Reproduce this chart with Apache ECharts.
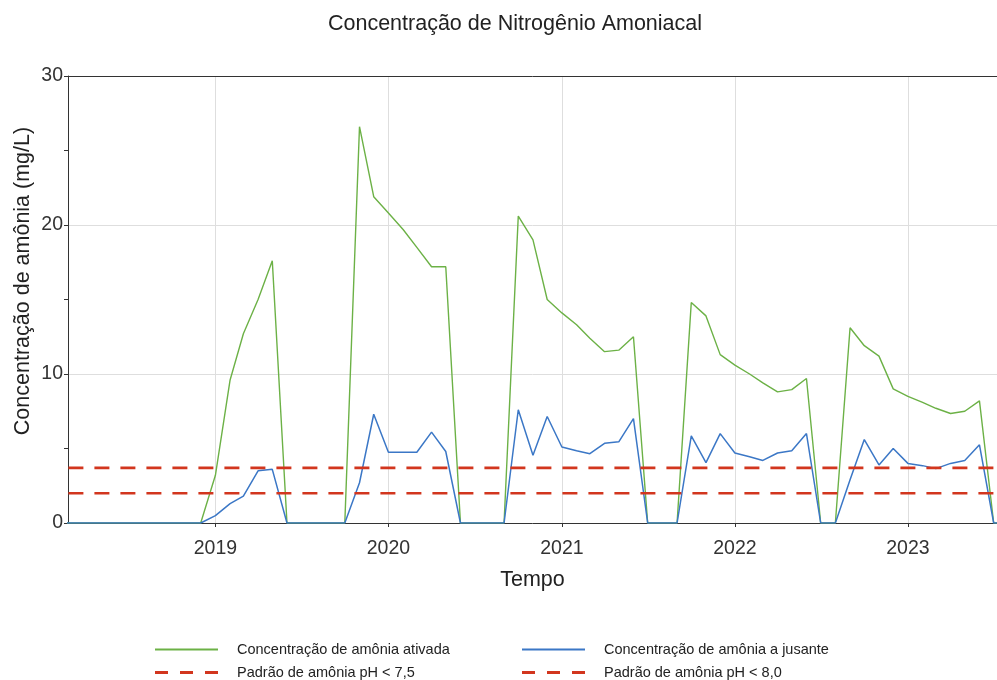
<!DOCTYPE html>
<html>
<head>
<meta charset="utf-8">
<script src="https://cdn.jsdelivr.net/npm/echarts@6/dist/echarts.min.js"></script>
<style>
  html, body { margin: 0; padding: 0; background: #ffffff; }
  #chart { width: 997px; height: 680px; }
</style>
</head>
<body>
<div id="chart"></div>
<script>
// Monthly sampling dates (first day of each month)
const months = [
  '2018-01','2018-02','2018-03','2018-04','2018-05','2018-06','2018-07','2018-08','2018-09','2018-10','2018-11','2018-12',
  '2019-01','2019-02','2019-03','2019-04','2019-05','2019-06','2019-07','2019-08','2019-09','2019-10','2019-11','2019-12',
  '2020-01','2020-02','2020-03','2020-04','2020-05','2020-06','2020-07','2020-08','2020-09','2020-10','2020-11','2020-12',
  '2021-01','2021-02','2021-03','2021-04','2021-05','2021-06','2021-07','2021-08','2021-09','2021-10','2021-11','2021-12',
  '2022-01','2022-02','2022-03','2022-04','2022-05','2022-06','2022-07','2022-08','2022-09','2022-10','2022-11','2022-12',
  '2023-01','2023-02','2023-03','2023-04','2023-05','2023-06','2023-07','2023-08'
];

// Ammonia concentration in the activated (treatment) stage, mg/L
const ativada = [
  0, 0, 0, 0, 0, 0, 0, 0, 0, 0, 0, 0,
  3.2, 9.6, 12.7, 15.0, 17.6, 0, 0, 0, 0, 0, 26.6, 21.9,
  20.8, 19.7, 18.5, 17.2, 17.2, 0, 0, 0, 0, 20.6, 19.0, 15.0,
  14.1, 13.3, 12.4, 11.5, 11.6, 12.5, 0, 0, 0, 14.8, 13.9, 11.3,
  10.6, 10.0, 9.4, 8.8, 8.95, 9.7, 0, 0, 13.1, 11.9, 11.2, 9.0,
  8.5, 8.1, 7.7, 7.35, 7.5, 8.2, 0, 0
];

// Ammonia concentration downstream, mg/L
const jusante = [
  0, 0, 0, 0, 0, 0, 0, 0, 0, 0, 0, 0,
  0.5, 1.3, 1.8, 3.5, 3.6, 0, 0, 0, 0, 0, 2.7, 7.3,
  4.75, 4.75, 4.75, 6.1, 4.8, 0, 0, 0, 0, 7.6, 4.55, 7.15,
  5.1, 4.85, 4.65, 5.35, 5.45, 7.0, 0, 0, 0, 5.85, 4.05, 6.0,
  4.7, 4.45, 4.2, 4.7, 4.85, 6.0, 0, 0, 2.9, 5.6, 3.9, 5.0,
  4.0, 3.85, 3.65, 4.0, 4.2, 5.25, 0, 0
];

// Regulatory limits (mg/L)
const padraoPh75 = 3.7;
const padraoPh80 = 2.0;

const axisStart = '2018-02-24';
const axisEnd = '2023-07-08';

const names = {
  ativada: 'Concentração de amônia ativada',
  jusante: 'Concentração de amônia a jusante',
  ph75: 'Padrão de amônia pH < 7,5',
  ph80: 'Padrão de amônia pH < 8,0'
};
const yTitle = 'Concentração de amônia (mg/L)';

const FONT = '"Liberation Sans", Arial, sans-serif';
const GREEN = '#6cb146';
const BLUE = '#3b77c6';
const RED = '#d2361e';
const DASH = [15, 11];

const pair = (vals) => months.map((m, i) => [m, vals[i]]);
const flat = (v) => [[months[0], v], [months[months.length - 1], v]];

// Legend glyphs: a plain stroke and a three-dash stroke
const solidIcon = 'path://M0,0H63V2H0Z';
const dashIcon = 'path://M0,0H13V3H0ZM25,0H38V3H25ZM50,0H63V3H50Z';

const chart = echarts.init(document.getElementById('chart'), null, { renderer: 'canvas' });

const legendBase = {
  orient: 'horizontal',
  itemWidth: 63,
  itemGap: 0,
  selectedMode: false,
  textStyle: { fontFamily: FONT, fontSize: 14.5, color: '#222', padding: [0, 0, 0, 14] }
};
const mkLegend = (name, left, top, icon, h) =>
  Object.assign({}, legendBase, { data: [{ name: name, icon: icon }], left: left, top: top, itemHeight: h });

chart.setOption({
  animation: false,
  backgroundColor: '#ffffff',
  title: {
    text: 'Concentração de Nitrogênio Amoniacal',
    left: 510,
    textAlign: 'center',
    top: 8,
    textStyle: { fontFamily: FONT, fontSize: 21.5, fontWeight: 'normal', color: '#222' }
  },
  legend: [
    mkLegend(names.ativada, 150, 637, solidIcon, 2),
    mkLegend(names.jusante, 517, 637, solidIcon, 2),
    mkLegend(names.ph75, 150, 660, dashIcon, 3),
    mkLegend(names.ph80, 517, 660, dashIcon, 3)
  ],
  graphic: [
    {
      type: 'text',
      x: 23,
      y: 281,
      rotation: Math.PI / 2,
      style: {
        text: yTitle,
        font: '21.5px "Liberation Sans", Arial, sans-serif',
        fill: '#222',
        align: 'center',
        verticalAlign: 'middle'
      }
    }
  ],
  grid: { left: 68, right: 0, top: 76, bottom: 157, containLabel: false },
  xAxis: [
    {
      type: 'time',
      min: axisStart,
      max: axisEnd,
      minInterval: 365 * 24 * 3600 * 1000,
      name: 'Tempo',
      nameLocation: 'middle',
      nameGap: 46,
      nameTextStyle: { fontFamily: FONT, fontSize: 21.5, color: '#222' },
      axisLine: { show: true, lineStyle: { color: '#333', width: 1 } },
      axisTick: { show: true, length: 4, lineStyle: { color: '#333' } },
      axisLabel: {
        fontFamily: FONT, fontSize: 19.5, color: '#333', margin: 16,
        formatter: (v) => String(new Date(v).getFullYear()),
        showMinLabel: false, showMaxLabel: false
      },
      splitLine: { show: true, lineStyle: { color: '#dedede', width: 1 } }
    },
    {
      type: 'time',
      position: 'top',
      min: axisStart,
      max: axisEnd,
      axisLine: { show: true, lineStyle: { color: '#333', width: 1 } },
      axisTick: { show: false },
      axisLabel: { show: false },
      splitLine: { show: false }
    }
  ],
  yAxis: {
    type: 'value',
    min: 0,
    max: 30,
    interval: 10,
    axisLine: { show: true, lineStyle: { color: '#333', width: 1 } },
    axisTick: { show: true, length: 4, lineStyle: { color: '#333' } },
    minorTick: { show: true, splitNumber: 2, length: 4, lineStyle: { color: '#333' } },
    axisLabel: { fontFamily: FONT, fontSize: 19.5, color: '#333', margin: 5 },
    splitLine: { show: true, lineStyle: { color: '#dedede', width: 1 } }
  },
  series: [
    {
      name: names.ativada,
      type: 'line',
      data: pair(ativada),
      showSymbol: false,
      symbol: 'none',
      lineStyle: { color: GREEN, width: 1.4 },
      itemStyle: { color: GREEN },
      z: 2
    },
    {
      name: names.jusante,
      type: 'line',
      data: pair(jusante),
      showSymbol: false,
      symbol: 'none',
      lineStyle: { color: BLUE, width: 1.5 },
      itemStyle: { color: BLUE },
      z: 3
    },
    {
      name: names.ph75,
      type: 'line',
      data: flat(padraoPh75),
      showSymbol: false,
      symbol: 'none',
      lineStyle: { color: RED, width: 2.6, type: DASH },
      itemStyle: { color: RED },
      z: 4
    },
    {
      name: names.ph80,
      type: 'line',
      data: flat(padraoPh80),
      showSymbol: false,
      symbol: 'none',
      lineStyle: { color: RED, width: 2.6, type: DASH },
      itemStyle: { color: RED },
      z: 4
    }
  ]
});
</script>
</body>
</html>
